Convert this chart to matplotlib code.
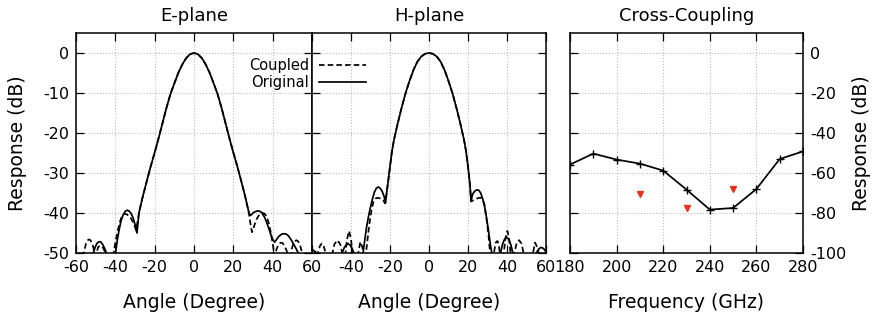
import matplotlib
matplotlib.use("Agg")
import matplotlib.pyplot as plt
from matplotlib.lines import Line2D

plt.rcParams['font.family'] = ['DejaVu Sans']
plt.rcParams['axes.unicode_minus'] = False

# E-plane, original (solid)
e_orig_deg = [-60, -56, -53, -52, -51.2, -50.5, -49.5, -48.5, -47.5, -46.5, -45.5, -44.5, -43.5, -42,
              -41, -40, -39, -38, -37, -36, -35, -34, -33, -32, -31, -30, -29.5, -29, -28.5, -28,
              -26, -24, -22, -20, -18, -16, -14, -12, -10, -8, -6, -4, -2, 0,
              2, 4, 6, 8, 10, 12, 14, 16, 18, 20, 22, 24, 26, 27, 28, 28.5, 29, 30, 31, 32, 33,
              34, 35, 36, 37, 38, 39, 40, 41, 42, 43, 44, 45, 46, 47, 48, 49, 50, 51, 52, 53,
              54, 56, 58, 60]
e_orig_db = [-56, -58, -54, -52, -50, -48.9, -47.7, -47.2, -47.2, -47.8, -48.8, -50, -53, -58,
             -54, -50.3, -46.8, -44.0, -41.8, -40.4, -39.6, -39.3, -39.5, -40.1, -41.2, -42.8, -43.8, -45, -42.6, -40.0,
             -35.8, -32.0, -28.3, -24.9, -21.3, -17.5, -13.7, -10.3, -7.6, -5.0, -2.9, -1.3, -0.3, 0,
             -0.3, -1.3, -2.9, -5.0, -7.6, -10.3, -13.7, -17.5, -21.3, -24.9, -28.3, -32.0, -35.8, -38.0, -40.0, -40.6, -40.5, -40.0, -39.7, -39.5, -39.5,
             -39.7, -40.3, -41.2, -42.4, -43.8, -45.3, -46.6, -47.3, -46.6, -45.9, -45.5, -45.2, -45.2, -45.3, -45.7, -46.4, -47.2, -48.1, -49.0, -50.0,
             -51.2, -55, -54, -51]

# E-plane, coupled (dashed)
e_coup_deg = [-60, -57, -56, -55, -54, -53.3, -52.5, -51.5, -50.5, -50, -49.5, -48.8, -48, -47, -46, -45,
              -44, -43, -42, -41, -40, -39, -38, -37, -36, -35, -34, -33, -32, -31, -30, -29.5, -29,
              -28.5, -28, -27, -26, -24, -22, -20, -18, -16, -14, -12, -10, -8, -6, -4, -2, 0,
              2, 4, 6, 8, 10, 12, 14, 16, 18, 20, 22, 24, 26, 27, 28, 28.5, 29, 29.5, 30, 31, 32, 33,
              34, 35, 36, 37, 38, 39, 40, 40.5, 41, 41.5, 42, 43, 44, 45, 46, 47, 47.8, 48.5, 49.3,
              50, 51, 52, 53, 54, 55, 56, 58, 60]
e_coup_db = [-55, -52, -50, -47.8, -46.8, -46.6, -46.9, -48, -50, -50.8, -50, -48.6, -48.2, -48.3, -48.9, -50,
             -53, -56, -54, -50.3, -47.4, -44.9, -42.8, -41.2, -40.4, -40.2, -40.4, -40.8, -41.4, -42.3, -43.5, -44.3, -43.0,
             -41.5, -40.2, -37.8, -35.8, -32.0, -28.3, -24.9, -21.3, -17.5, -13.7, -10.3, -7.6, -5.0, -2.9, -1.3, -0.3, 0,
             -0.3, -1.3, -2.9, -5.0, -7.6, -10.3, -13.7, -17.5, -21.3, -24.9, -28.3, -32.0, -35.8, -38.0, -40.3, -42, -43.6, -44.8, -44.2, -42.6, -41.4, -40.6,
             -40.2, -40.0, -40.2, -41, -42.5, -44.8, -47.6, -49.3, -50.8, -50, -49, -47.9, -47.4, -47.5, -48.2, -49.3, -50.5, -52, -50,
             -48.4, -47.2, -46.8, -47.1, -48.2, -50, -53, -56, -54]

# H-plane, original (solid)
h_orig_deg = [-60, -59, -58, -57, -56, -52, -48, -46, -45, -44.5, -43.5, -42.5, -41.5, -40.5, -39.5, -38.5,
              -38, -36, -35, -34.5, -33.8, -33, -32, -31, -30, -29, -28, -27, -26, -25, -24, -23, -22.3,
              -22, -21, -20, -19, -18, -16, -14, -12, -10, -8, -6, -4, -2, 0,
              2, 4, 6, 8, 10, 12, 14, 16, 18, 19, 20, 21, 21.6, 22, 22.5, 23.5, 24.5, 25.5, 26.5, 27.5,
              28.5, 29.5, 30.5, 31.5, 32.2, 33, 35, 36, 36.7, 37.5, 38.5, 39.7, 41, 42, 43, 43.5, 48,
              53, 54.5, 55.5, 56.5, 57.5, 58.5, 59.3, 60]
h_orig_db = [-49.2, -49.4, -49.8, -50.6, -53, -60, -56, -53, -51, -50, -48.7, -48.0, -47.7, -48.0, -48.8, -50,
             -51.5, -58, -54, -52, -50, -47, -43.5, -40.8, -38.5, -36.5, -34.8, -33.8, -33.5, -33.8, -34.6, -35.9, -37.5,
             -36.0, -32.2, -28.3, -24.6, -21.8, -17.5, -13.6, -10.0, -7.0, -4.3, -2.2, -0.9, -0.2, 0,
             -0.2, -0.9, -2.2, -4.3, -7.0, -10.0, -13.6, -17.5, -21.8, -24.6, -28.3, -33.0, -37.1, -36.0, -35.2, -34.5, -34.2, -34.3, -35.0, -36.4,
             -38.4, -41.2, -44.4, -48, -50, -54, -58, -52, -50, -48.2, -46.8, -46.0, -46.6, -48.0, -50, -52, -58,
             -55, -51, -49.6, -48.9, -48.6, -48.8, -49.2, -49.8]

# H-plane, coupled (dashed)
h_coup_deg = [-60, -58, -57, -56, -55, -54, -53, -52.5, -50, -49.5, -48.5, -47, -45.5, -44.5, -43.5, -42.8,
              -42, -41, -40, -39.3, -38.5, -37, -36.3, -35.2, -34.2, -33.8, -33.2, -32.3, -31.5, -30.5,
              -29.5, -28.5, -27.5, -26.5, -25.5, -24.5, -23.5, -22.5, -22, -21, -20, -19, -18, -16, -14,
              -12, -10, -8, -6, -4, -2, 0, 2, 4, 6, 8, 10, 12, 14, 16, 18, 19, 20, 21, 21.6, 22.5, 23.5,
              24.5, 25.5, 26.5, 27.5, 28.5, 29.5, 30.5, 31.3, 32, 33.3, 34.2, 35.1, 35.8, 36.3, 37, 38.3,
              39.3, 40.2, 41, 41.8, 42.5, 43.8, 45, 46.2, 47.4, 48.5, 49.5, 52.5, 53.3, 54.4, 55.5, 56.2,
              57, 60]
h_coup_db = [-51, -53, -50, -48.3, -47.6, -48.3, -50, -52, -52, -50, -47.8, -46.8, -47.8, -50, -52, -50,
             -46.5, -44.5, -46.5, -50, -53, -52, -50, -47.2, -48.5, -50, -50.5, -50, -46.5, -42.5,
             -39.3, -37.2, -36.4, -36.2, -36.3, -36.4, -36.8, -37.6, -36.2, -32.4, -28.5, -24.6, -21.8, -17.5, -13.6,
             -10.0, -7.0, -4.3, -2.2, -0.9, -0.2, 0, -0.2, -0.9, -2.2, -4.3, -7.0, -10.0, -13.6, -17.5, -21.8, -24.6, -28.5, -32.8, -37.1, -36.9, -36.6,
             -36.4, -36.2, -36.2, -36.5, -38, -41.5, -45.5, -50, -53, -50, -47.4, -47.0, -48, -50, -53, -50,
             -46.2, -44.5, -46.2, -50, -53, -50, -47.4, -46.8, -47.6, -50, -53, -52, -50, -47.4, -48.6, -50,
             -53, -55]

# Cross-coupling
freq = [180, 190, 200, 210, 220, 230, 240, 250, 260, 270, 280]
xc_db = [-55.8, -50.3, -53.3, -55.3, -58.8, -68.3, -78.3, -77.5, -68.0, -53.0, -49.2]
red_freq = [210, 230, 250]
red_db = [-70.3, -77.5, -68.0]

angle_ticks = [-60, -40, -20, 0, 20, 40, 60]
db_ticks = [0, -10, -20, -30, -40, -50]
freq_ticks = [180, 200, 220, 240, 260, 280]
xc_ticks = [0, -20, -40, -60, -80, -100]

W, H = 874, 320
fig = plt.figure(figsize=(W / 100, H / 100), dpi=100)


def px_axes(x0, x1, y0, y1):
    return fig.add_axes([x0 / W, 1 - y1 / H, (x1 - x0) / W, (y1 - y0) / H])


ax_e = px_axes(76, 312, 33, 253)
ax_h = px_axes(312, 546, 33, 253)
ax_c = px_axes(570, 803, 33, 253)

dash = (0, (3.2, 1.8))
lw = 1.25
tick_fs = 11.5
lab_fs = 13.5
title_fs = 13

for ax in (ax_e, ax_h, ax_c):
    ax.grid(True, color='#bbbbbb', linestyle=':', linewidth=0.8)
    ax.set_axisbelow(True)
    ax.tick_params(direction='in', length=6, width=0.9, top=True, right=True,
                   labelsize=tick_fs, pad=5)
    for s in ax.spines.values():
        s.set_linewidth(1.1)

ax_e.plot(e_coup_deg, e_coup_db, color='black', lw=lw, linestyle=dash)
ax_e.plot(e_orig_deg, e_orig_db, color='black', lw=lw)
ax_h.plot(h_coup_deg, h_coup_db, color='black', lw=lw, linestyle=dash)
ax_h.plot(h_orig_deg, h_orig_db, color='black', lw=lw)

for ax, name in ((ax_e, 'E-plane'), (ax_h, 'H-plane')):
    ax.set_xlim(-60, 60)
    ax.set_ylim(-50, 5)
    ax.set_xticks(angle_ticks)
    ax.set_yticks(db_ticks)
    ax.set_xlabel('Angle (Degree)', fontsize=lab_fs)
    ax.xaxis.set_label_coords(0.5, -0.18)
    ax.text(0.5, 1.035, name, transform=ax.transAxes, ha='center', va='bottom', fontsize=title_fs)

ax_e.set_ylabel('Response (dB)', fontsize=lab_fs)
ax_e.yaxis.set_label_coords(-0.208, 0.5)
ax_h.set_yticklabels([])
ax_h.set_xticklabels([''] + [str(t) for t in angle_ticks[1:]])

ax_c.plot(freq, xc_db, color='black', lw=lw, marker='+', markersize=6, markeredgewidth=1.0)
ax_c.plot(red_freq, red_db, linestyle='none', marker='v', color='#e8321e', markersize=5)
ax_c.set_xlim(180, 280)
ax_c.set_ylim(-100, 10)
ax_c.set_xticks(freq_ticks)
ax_c.set_yticks(xc_ticks)
ax_c.tick_params(labelleft=False, labelright=True)
ax_c.set_xlabel('Frequency (GHz)', fontsize=lab_fs)
ax_c.xaxis.set_label_coords(0.5, -0.18)
ax_c.set_ylabel('Response (dB)', fontsize=lab_fs)
ax_c.yaxis.set_label_position('right')
ax_c.yaxis.set_label_coords(1.212, 0.5)
ax_c.text(0.5, 1.035, 'Cross-Coupling', transform=ax_c.transAxes, ha='center', va='bottom', fontsize=title_fs)

handles = [Line2D([], [], color='black', lw=lw, linestyle=dash),
           Line2D([], [], color='black', lw=lw)]
fig.legend(handles, ['Coupled', 'Original'], loc='upper right',
           bbox_to_anchor=(366 / W, 1 - 58 / H), markerfirst=False, frameon=False,
           fontsize=10.5, handlelength=3.2, handletextpad=0.7, labelspacing=0.15,
           borderpad=0, borderaxespad=0)

fig.savefig('out.png', dpi=100)
